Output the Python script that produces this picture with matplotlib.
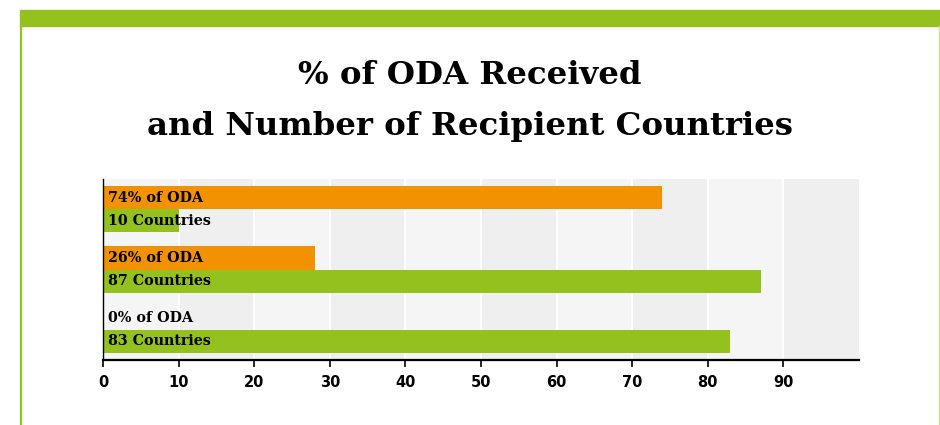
import matplotlib.pyplot as plt
from matplotlib.patches import Rectangle

# data
groups = ["Group A", "Group B", "Group C"]
oda_bar = [74, 28, 0]       # bar length as drawn
oda_label = [74, 26, 0]     # value printed in the label
countries = [10, 87, 83]
xticks = [0, 10, 20, 30, 40, 50, 60, 70, 80, 90]

ORANGE = "#f39200"
GREEN = "#95c11f"

fig = plt.figure(figsize=(9.4, 4.25), dpi=100)
fig.patch.set_facecolor("white")

# frame decoration: green top band and thin side lines
fig.patches.append(Rectangle((20 / 940, 1 - 26 / 425), 1, 16 / 425,
                             transform=fig.transFigure, color=GREEN, zorder=0))
fig.add_artist(plt.Line2D([20.5 / 940, 20.5 / 940], [0, 1 - 26 / 425],
                          transform=fig.transFigure, color=GREEN, lw=1.6))
fig.add_artist(plt.Line2D([939 / 940, 939 / 940], [0, 1 - 26 / 425],
                          transform=fig.transFigure, color="#cfe08f", lw=1.0))

fig.text(0.5, 1 - 76 / 425, "% of ODA Received", ha="center", va="center",
         fontsize=23.3, fontweight="bold", family="DejaVu Serif")
fig.text(0.5, 1 - 127 / 425, "and Number of Recipient Countries", ha="center", va="center",
         fontsize=23.3, fontweight="bold", family="DejaVu Serif")

ax = fig.add_axes([103 / 940, 65 / 425, 756 / 940, 181 / 425])
ax.set_xlim(0, 100)
ax.set_ylim(2.5, -0.5)

# alternating column bands and white grid
for i in range(10):
    ax.axvspan(i * 10, i * 10 + 10, color="#f5f5f5" if i % 2 == 0 else "#efefef",
               lw=0, zorder=0)
for t in xticks[1:]:
    ax.axvline(t, color="white", lw=1.5, zorder=1)

h = 0.383
y = list(range(len(groups)))
ax.barh([v - h / 2 for v in y], oda_bar, height=h, color=ORANGE, zorder=2)
ax.barh([v + h / 2 for v in y], countries, height=h, color=GREEN, zorder=2)

for yi, p, c in zip(y, oda_label, countries):
    ax.text(0.7, yi - h / 2, f"{p}% of ODA", va="center", ha="left",
            fontsize=10.3, fontweight="bold", family="DejaVu Serif", zorder=3)
    ax.text(0.7, yi + h / 2, f"{c} Countries", va="center", ha="left",
            fontsize=10.3, fontweight="bold", family="DejaVu Serif", zorder=3)

for s in ["top", "right"]:
    ax.spines[s].set_visible(False)
ax.spines["left"].set_linewidth(1.0)
ax.spines["bottom"].set_linewidth(1.6)
ax.set_yticks([])
ax.set_xticks(xticks)
ax.tick_params(axis="x", length=5, width=1.2, pad=6, labelsize=10.5)
for lab in ax.get_xticklabels():
    lab.set_fontweight("bold")

fig.savefig("out.png", dpi=100)
